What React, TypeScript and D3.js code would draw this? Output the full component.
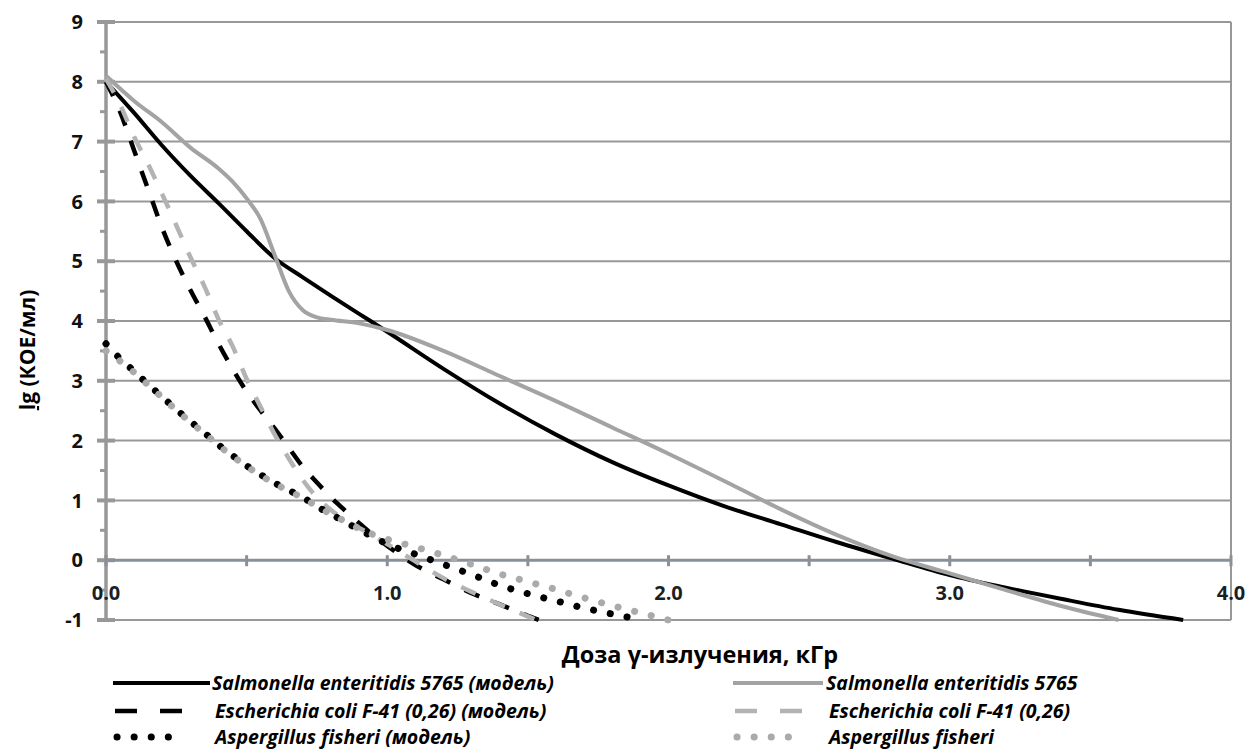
import React from "react";
import * as d3 from "d3";

// ---- data ----
const xTickValues = [0, 0.5, 1, 1.5, 2, 2.5, 3, 3.5, 4];
const xLabelValues = [0, 1, 2, 3, 4];
const yTickValues = [-1, 0, 1, 2, 3, 4, 5, 6, 7, 8, 9];
const yMinorValues = [-0.5, 0.5, 1.5, 2.5, 3.5, 4.5, 5.5, 6.5, 7.5, 8.5];

const salmonellaModel: [number, number][] = [
  [0, 8.0], [0.1, 7.48], [0.2, 6.93], [0.3, 6.43], [0.4, 5.97], [0.5, 5.5], [0.6, 5.05],
  [0.7, 4.73], [0.8, 4.42], [0.9, 4.12], [1.0, 3.82], [1.2, 3.2], [1.4, 2.62], [1.6, 2.1],
  [1.8, 1.64], [2.0, 1.25], [2.2, 0.9], [2.4, 0.6], [2.6, 0.3], [2.8, 0.02], [3.0, -0.25],
  [3.2, -0.46], [3.4, -0.65], [3.6, -0.83], [3.83, -1.0],
];
const salmonellaExp: [number, number][] = [
  [0, 8.1], [0.1, 7.68], [0.2, 7.32], [0.3, 6.9], [0.4, 6.55], [0.45, 6.33], [0.5, 6.05],
  [0.55, 5.7], [0.6, 5.1], [0.65, 4.5], [0.7, 4.18], [0.75, 4.06], [0.8, 4.02], [0.9, 3.96],
  [1.0, 3.85], [1.2, 3.5], [1.4, 3.08], [1.6, 2.66], [1.8, 2.22], [2.0, 1.78], [2.2, 1.32],
  [2.4, 0.85], [2.6, 0.42], [2.8, 0.06], [3.0, -0.22], [3.2, -0.5], [3.4, -0.77], [3.6, -1.0],
];
const ecoliModel: [number, number][] = [
  [0, 8.0], [0.05, 7.5], [0.1, 6.85], [0.15, 6.2], [0.2, 5.55], [0.25, 5.0], [0.3, 4.52],
  [0.35, 4.08], [0.4, 3.62], [0.45, 3.2], [0.5, 2.82], [0.55, 2.5], [0.6, 2.2], [0.65, 1.88],
  [0.7, 1.56], [0.75, 1.3], [0.8, 1.05], [0.85, 0.83], [0.9, 0.62], [0.95, 0.42], [1.0, 0.24],
  [1.1, -0.08], [1.2, -0.32], [1.3, -0.55], [1.4, -0.74], [1.5, -0.93], [1.54, -1.0],
];
const ecoliExp: [number, number][] = [
  [0, 8.05], [0.05, 7.62], [0.1, 7.08], [0.15, 6.62], [0.2, 6.12], [0.25, 5.6], [0.3, 5.07],
  [0.35, 4.58], [0.4, 4.03], [0.45, 3.58], [0.5, 3.03], [0.55, 2.56], [0.6, 2.1], [0.65, 1.7],
  [0.7, 1.34], [0.75, 1.05], [0.8, 0.84], [0.85, 0.67], [0.9, 0.54], [0.95, 0.41], [1.0, 0.27],
  [1.1, -0.02], [1.2, -0.3], [1.3, -0.53], [1.4, -0.74], [1.5, -0.94], [1.53, -1.0],
];
const aspergillusModel: [number, number][] = [
  [0, 3.62], [0.05, 3.37], [0.1, 3.16], [0.15, 2.94], [0.2, 2.73], [0.25, 2.52], [0.3, 2.32],
  [0.35, 2.13], [0.4, 1.93], [0.45, 1.75], [0.5, 1.58], [0.55, 1.43], [0.6, 1.29], [0.65, 1.17],
  [0.7, 1.05], [0.75, 0.9], [0.8, 0.77], [0.85, 0.64], [0.9, 0.51], [0.95, 0.39], [1.0, 0.27],
  [1.1, 0.1], [1.2, -0.07], [1.3, -0.24], [1.4, -0.42], [1.5, -0.56], [1.6, -0.68], [1.7, -0.8],
  [1.8, -0.9], [1.91, -1.0],
];
const aspergillusExp: [number, number][] = [
  [0, 3.5], [0.05, 3.33], [0.1, 3.14], [0.15, 2.93], [0.2, 2.72], [0.25, 2.51], [0.3, 2.31],
  [0.35, 2.12], [0.4, 1.92], [0.45, 1.74], [0.5, 1.57], [0.55, 1.42], [0.6, 1.28], [0.65, 1.16],
  [0.7, 1.04], [0.75, 0.9], [0.8, 0.77], [0.85, 0.65], [0.9, 0.53], [0.95, 0.43], [1.0, 0.35],
  [1.1, 0.22], [1.2, 0.08], [1.3, -0.07], [1.4, -0.23], [1.5, -0.36], [1.6, -0.49], [1.7, -0.63],
  [1.8, -0.76], [1.9, -0.88], [2.0, -1.0],
];

const seriesNames = [
  "Salmonella enteritidis 5765 (модель)",
  "Salmonella enteritidis 5765",
  "Escherichia coli F-41 (0,26) (модель)",
  "Escherichia coli F-41 (0,26)",
  "Aspergillus fisheri (модель)",
  "Aspergillus fisheri",
];

const xTitle = "Доза γ-излучения, кГр";

// ---- styles ----
const BLACK = "#000000";
const GRAY = "#a3a3a3";
const GRID = "#989898";
const XAXIS = "#8a9099";
const FONT = "'Open Sans', Lato, 'DejaVu Sans', sans-serif";

type Style = { color: string; width: number; dash?: string; cap: "butt" | "round" };
const styles: Style[] = [
  { color: BLACK, width: 4, cap: "butt" },
  { color: GRAY, width: 4, cap: "butt" },
  { color: BLACK, width: 4.5, dash: "16 16", cap: "butt" },
  { color: "#b3b3b3", width: 4.5, dash: "16 16", cap: "butt" },
  { color: BLACK, width: 7, dash: "0.1 17", cap: "round" },
  { color: "#aaaaaa", width: 7, dash: "0.1 17", cap: "round" },
];
const seriesData = [salmonellaModel, salmonellaExp, ecoliModel, ecoliExp, aspergillusModel, aspergillusExp];

export default function App() {
  const W = 1248, H = 751;
  const left = 106, right = 1231, top = 22, bottom = 620;
  const x = d3.scaleLinear().domain([0, 4]).range([left, right]);
  const y = d3.scaleLinear().domain([-1, 9]).range([bottom, top]);
  const line = d3
    .line<[number, number]>()
    .x((d) => x(d[0]))
    .y((d) => y(d[1]))
    .curve(d3.curveMonotoneX);

  const legendRows = [683, 711, 737];
  const legendCols = [
    { x0: 113, x1: 210, tx: 212 },
    { x0: 733, x1: 823, tx: 826 },
  ];

  return (
    <div style={{ position: "absolute", left: 0, top: 0 }}>
      <svg width={W} height={H} style={{ display: "block", background: "#fff" }}>
        {/* gridlines */}
        {yTickValues.filter((v) => v !== 0).map((v) => (
          <line key={"g" + v} x1={left} x2={right} y1={y(v)} y2={y(v)} stroke={GRID} strokeWidth={2} />
        ))}
        {/* right border */}
        <line x1={right} x2={right} y1={y(9)} y2={y(-1)} stroke={GRID} strokeWidth={2} />
        {/* y axis */}
        <line x1={left} x2={left} y1={y(9) - 1} y2={y(-1) + 1} stroke={GRID} strokeWidth={3.5} />
        {yTickValues.map((v) => (
          <line key={"t" + v} x1={left - 9} x2={left + 9} y1={y(v)} y2={y(v)} stroke={GRID} strokeWidth={4} />
        ))}
        {yMinorValues.map((v) => (
          <line key={"m" + v} x1={left - 6} x2={left} y1={y(v)} y2={y(v)} stroke={GRID} strokeWidth={3} />
        ))}
        {/* x axis at 0 */}
        <line x1={left} x2={right} y1={y(0)} y2={y(0)} stroke={XAXIS} strokeWidth={3} />
        {xTickValues.map((v) => (
          <line key={"xt" + v} x1={x(v)} x2={x(v)} y1={y(0) - 5} y2={y(0) + 6} stroke={XAXIS} strokeWidth={3} />
        ))}

        {/* series */}
        {seriesData.map((d, i) => (
          <path
            key={"s" + i}
            d={line(d) || ""}
            fill="none"
            stroke={styles[i].color}
            strokeWidth={styles[i].width}
            strokeDasharray={styles[i].dash}
            strokeLinecap={styles[i].cap}
          />
        ))}

        {/* tick labels */}
        {yTickValues.map((v) => (
          <text key={"yl" + v} x={83} y={y(v)} dy="0.36em" textAnchor="end" fontFamily={FONT}
            fontWeight="bold" fontSize={20} fill="#111">
            {v}
          </text>
        ))}
        {xLabelValues.map((v) => (
          <text key={"xl" + v} x={x(v)} y={600} textAnchor="middle" fontFamily={FONT}
            fontWeight="bold" fontSize={20} fill="#1a1f26">
            {v.toFixed(1)}
          </text>
        ))}

        {/* axis titles */}
        <text transform={`translate(35,350) rotate(-90)`} textAnchor="middle" fontFamily={FONT}
          fontWeight="bold" fontSize={21} fill="#000">
          <tspan textDecoration="underline">lg</tspan> (КОЕ/мл)
        </text>
        <text x={700} y={663} textAnchor="middle" fontFamily={FONT} fontWeight="bold" fontSize={23.5} fill="#000">
          {xTitle}
        </text>

        {/* legend */}
        {seriesNames.map((name, i) => {
          const col = legendCols[i % 2];
          const ry = legendRows[Math.floor(i / 2)];
          const s = styles[i];
          let dash = s.dash;
          let x0 = col.x0;
          let x1 = col.x1;
          let tx = col.tx;
          if (i === 2 || i === 3) { dash = "22 23"; x0 = col.x0 + 2; x1 = x0 + 67; tx = col.tx + 3; }
          if (i === 4 || i === 5) { dash = "0.1 17"; x0 = col.x0 + 4; x1 = x0 + 52; tx = col.tx + 3; }
          return (
            <g key={"lg" + i}>
              <line x1={x0} x2={x1} y1={ry} y2={ry} stroke={s.color} strokeWidth={s.width}
                strokeDasharray={dash} strokeLinecap={s.cap} />
              <text x={tx} y={ry} dy="0.35em" fontFamily={FONT} fontWeight="bold" fontStyle="italic"
                fontSize={19.5} fill="#000">
                {name}
              </text>
            </g>
          );
        })}
      </svg>
    </div>
  );
}
